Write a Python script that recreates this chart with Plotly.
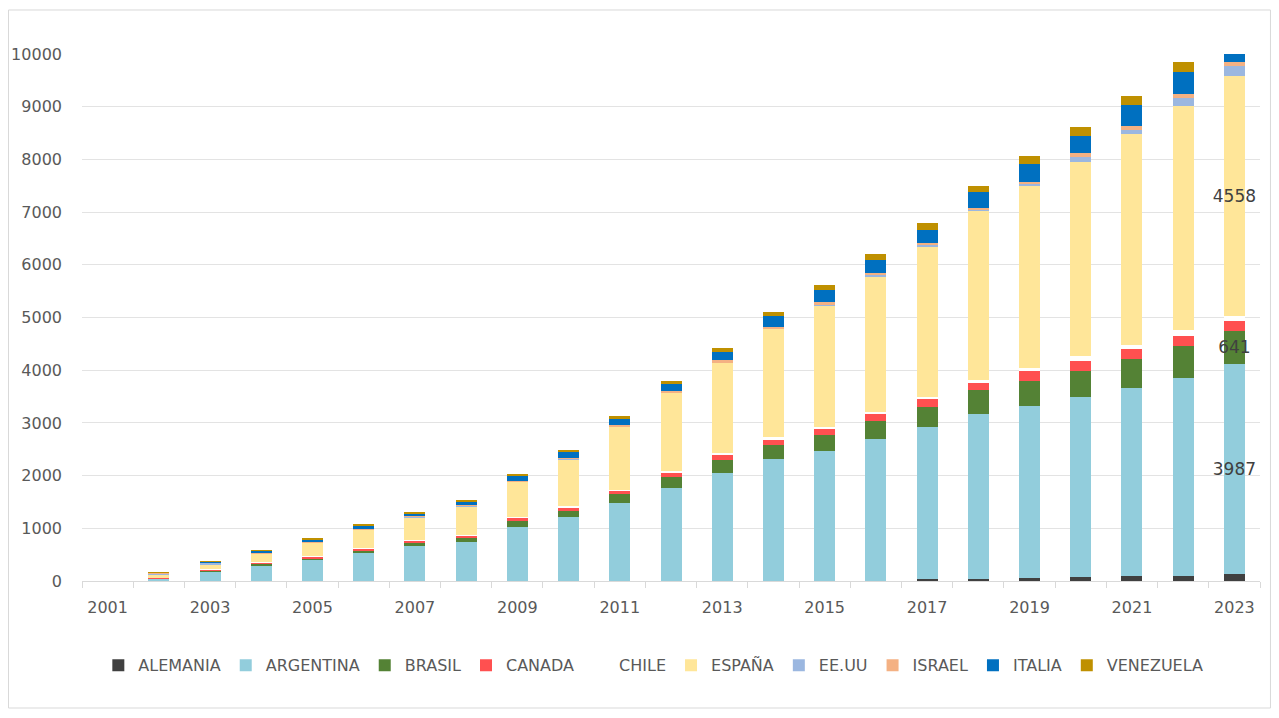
import plotly.graph_objects as go

years = list(range(2001, 2024))

alemania  = [0, 0, 0, 0, 0, 0, 0, 0, 0, 0, 0, 0, 0, 0, 0, 0, 30, 45, 65, 80, 90, 100, 125]
argentina = [0, 45, 174, 303, 400, 527, 667, 749, 1025, 1215, 1481, 1766, 2051, 2312, 2465, 2694, 2886, 3117, 3260, 3410, 3570, 3760, 3987]
brasil    = [0, 8, 32, 32, 32, 44, 50, 64, 108, 114, 165, 209, 240, 274, 306, 338, 380, 456, 463, 490, 550, 590, 641]
canada    = [0, 5, 8, 15, 33, 51, 51, 44, 63, 63, 63, 76, 114, 108, 114, 140, 159, 146, 190, 197, 183, 200, 190]
chile     = [0, 3, 5, 8, 10, 10, 10, 10, 25, 25, 25, 30, 32, 32, 32, 32, 45, 45, 57, 85, 80, 110, 90]
espana    = [0, 55, 90, 165, 255, 345, 433, 549, 658, 892, 1190, 1488, 1702, 2057, 2312, 2581, 2852, 3213, 3474, 3692, 4000, 4260, 4558]
eeuu      = [0, 35, 40, 5, 5, 8, 8, 10, 8, 10, 10, 10, 15, 10, 15, 15, 15, 15, 20, 90, 85, 140, 180]
israel    = [0, 3, 5, 8, 10, 11, 11, 15, 17, 22, 22, 28, 36, 35, 48, 48, 45, 50, 50, 75, 85, 80, 80]
italia    = [0, 3, 8, 35, 40, 58, 58, 70, 89, 101, 126, 139, 158, 210, 222, 234, 254, 291, 329, 334, 387, 420, 200]
venezuela = [0, 3, 5, 15, 15, 25, 25, 32, 38, 38, 45, 50, 82, 64, 108, 114, 127, 121, 159, 164, 177, 190, 150]

series_names = ["ALEMANIA", "ARGENTINA", "BRASIL", "CANADA", "CHILE",
                "ESPAÑA", "EE.UU", "ISRAEL", "ITALIA", "VENEZUELA"]
series_values = [alemania, argentina, brasil, canada, chile,
                 espana, eeuu, israel, italia, venezuela]
series_colors = ["#404040", "#92CDDC", "#548235", "#FF5050", "#FFFFFF",
                 "#FFE699", "#9BB7E0", "#F4B183", "#0070C0", "#BF9000"]
labeled_series = ["ARGENTINA", "BRASIL", "ESPAÑA"]
label_year = 2023

tick_years = list(range(2001, 2024, 2))

fig = go.Figure()
for name, vals, col in zip(series_names, series_values, series_colors):
    if name in labeled_series:
        txt = [str(v) if y == label_year else "" for y, v in zip(years, vals)]
    else:
        txt = None
    fig.add_trace(go.Bar(
        x=years, y=vals, name=name,
        marker=dict(color=col, line=dict(width=0)),
        text=txt, textposition="inside", insidetextanchor="middle",
        textangle=0, constraintext="none",
        textfont=dict(color="#404040", size=17, family="DejaVu Sans"),
    ))

fig.update_layout(
    barmode="stack",
    bargap=0.59,
    width=1263, height=702,
    margin=dict(l=74, r=11, t=46, b=129, autoexpand=False),
    paper_bgcolor="white", plot_bgcolor="white",
    font=dict(family="DejaVu Sans", color="#595959", size=16),
    showlegend=True,
    legend=dict(orientation="h", x=0.485, xanchor="center", y=-0.16, yanchor="middle",
                font=dict(size=16, color="#595959", family="DejaVu Sans"),
                traceorder="normal", itemclick=False),
    uniformtext=dict(mode="show", minsize=16),
    xaxis=dict(
        range=[2000.5, 2023.5],
        tickmode="array", tickvals=tick_years, ticktext=[str(y) for y in tick_years],
        ticks="", showgrid=False, zeroline=False, automargin=False,
        showline=True, linecolor="#D9D9D9", linewidth=1,
        ticklabelstandoff=12,
        tickfont=dict(size=16, color="#595959"),
        minor=dict(tick0=2000.5, dtick=1, ticks="outside", ticklen=6,
                   tickcolor="#D9D9D9", tickwidth=1, showgrid=False),
    ),
    yaxis=dict(
        range=[0, 10000], tickmode="linear", tick0=0, dtick=1000, tickformat="d",
        showgrid=True, gridcolor="#E3E3E3", gridwidth=1, automargin=False,
        zeroline=False, showline=False, ticks="",
        ticklabelstandoff=19,
        tickfont=dict(size=16, color="#595959"),
    ),
    shapes=[dict(type="rect", xref="paper", yref="paper",
                 x0=-0.0624, x1=1.0089, y0=-0.241, y1=1.0835,
                 line=dict(color="#D9D9D9", width=1), fillcolor="rgba(0,0,0,0)", layer="below")],
)

fig.write_html("out.html")
